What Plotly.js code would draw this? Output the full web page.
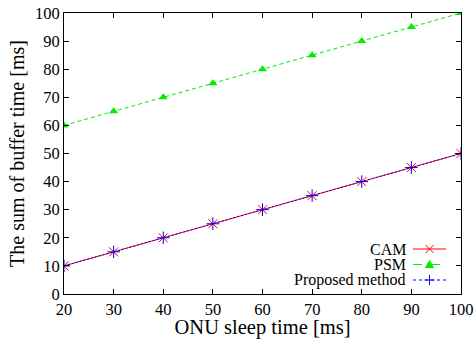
<!DOCTYPE html>
<html><head><meta charset="utf-8">
<script src="https://cdn.plot.ly/plotly-3.0.1.min.js"></script>
<style>body{margin:0;background:#fff}#c{width:474px;height:339px}</style>
</head><body><div id="c"></div>
<script>
const sleepTime = [20, 30, 40, 50, 60, 70, 80, 90, 100];
const cam = [10, 15, 20, 25, 30, 35, 40, 45, 50];
const psm = [60, 65, 70, 75, 80, 85, 90, 95, 100];
const proposed = [10, 15, 20, 25, 30, 35, 40, 45, 50];
const seriesNames = ['CAM', 'PSM', 'Proposed method'];
const xTicks = [20, 30, 40, 50, 60, 70, 80, 90, 100];
const yTicks = [0, 10, 20, 30, 40, 50, 60, 70, 80, 90, 100];

const FONT = 'Liberation Serif, Times New Roman, serif';
const traces = [
  {x: sleepTime, y: psm, mode: 'lines+markers', name: seriesNames[1],
   line: {color: '#00ee00', width: 1, dash: '4px,3px'},
   marker: {symbol: 'triangle-up', size: 8, color: '#00ee00'}},
  {x: sleepTime, y: cam, mode: 'lines+markers', name: seriesNames[0],
   line: {color: '#ff0000', width: 1},
   marker: {symbol: 'x-thin', size: 9, line: {color: '#ff0000', width: 1}}},
  {x: sleepTime, y: proposed, mode: 'lines+markers', name: seriesNames[2],
   line: {color: '#0000ff', width: 1, dash: '2px,2px'},
   marker: {symbol: 'cross-thin', size: 9, line: {color: '#0000ff', width: 1}}}
];

// custom gnuplot-style key: text on left, sample on right
const keyRows = [
  {name: seriesNames[0], color: '#ff0000', dash: 'solid', sym: 'x'},
  {name: seriesNames[1], color: '#00ee00', dash: 'dash', sym: 'tri'},
  {name: seriesNames[2], color: '#0000ff', dash: 'dot', sym: 'plus'}
];
const W = 474, H = 339, L = 64, R = 13, T = 13, B = 45;
const pw = W - L - R, ph = H - T - B;
const px = v => (v - L) / pw, py = v => (H - B - v) / ph;
const shapes = [], annotations = [];
const rowY = [249, 264.5, 280];
keyRows.forEach((r, i) => {
  const y = rowY[i];
  annotations.push({xref: 'paper', yref: 'paper', x: px(408), y: py(y), xanchor: 'right', yanchor: 'middle',
    text: r.name, showarrow: false, font: {family: FONT, size: 16, color: '#000'}});
  shapes.push({type: 'line', xref: 'paper', yref: 'paper', x0: px(413), x1: px(446), y0: py(y), y1: py(y),
    line: {color: r.color, width: 1, dash: r.dash}});
  const cx = 429.5, s = 4;
  if (r.sym === 'x') {
    shapes.push({type: 'path', xref: 'paper', yref: 'paper',
      path: `M${px(cx-s)},${py(y-s)}L${px(cx+s)},${py(y+s)}M${px(cx-s)},${py(y+s)}L${px(cx+s)},${py(y-s)}`,
      line: {color: r.color, width: 1}});
  } else if (r.sym === 'plus') {
    shapes.push({type: 'path', xref: 'paper', yref: 'paper',
      path: `M${px(cx-s-1)},${py(y)}L${px(cx+s+1)},${py(y)}M${px(cx)},${py(y-s-1)}L${px(cx)},${py(y+s+1)}`,
      line: {color: r.color, width: 1}});
  } else {
    shapes.push({type: 'path', xref: 'paper', yref: 'paper',
      path: `M${px(cx-4)},${py(y+3)}L${px(cx+4)},${py(y+3)}L${px(cx)},${py(y-4)}Z`,
      fillcolor: r.color, line: {color: r.color, width: 1}});
  }
});

const axisCommon = {showline: true, linecolor: '#000', linewidth: 1, mirror: 'ticks',
  ticks: 'inside', ticklen: 5, tickcolor: '#000', tickwidth: 1, showgrid: false, zeroline: false,
  tickfont: {family: FONT, size: 16.5, color: '#000'}};
const layout = {
  width: W, height: H, margin: {l: L, r: R, t: T, b: B},
  paper_bgcolor: '#fff', plot_bgcolor: '#fff', showlegend: false,
  xaxis: Object.assign({}, axisCommon, {range: [20, 100], tickvals: xTicks,
    title: {text: 'ONU sleep time [ms]', font: {family: FONT, size: 20.5, color: '#000'}, standoff: 2}}),
  yaxis: Object.assign({}, axisCommon, {range: [0, 100], tickvals: yTicks,
    title: {text: 'The sum of buffer time [ms]', font: {family: FONT, size: 20, color: '#000'}, standoff: 4}}),
  shapes: shapes, annotations: annotations
};
Plotly.newPlot('c', traces, layout, {displayModeBar: false, staticPlot: true});
</script></body></html>
